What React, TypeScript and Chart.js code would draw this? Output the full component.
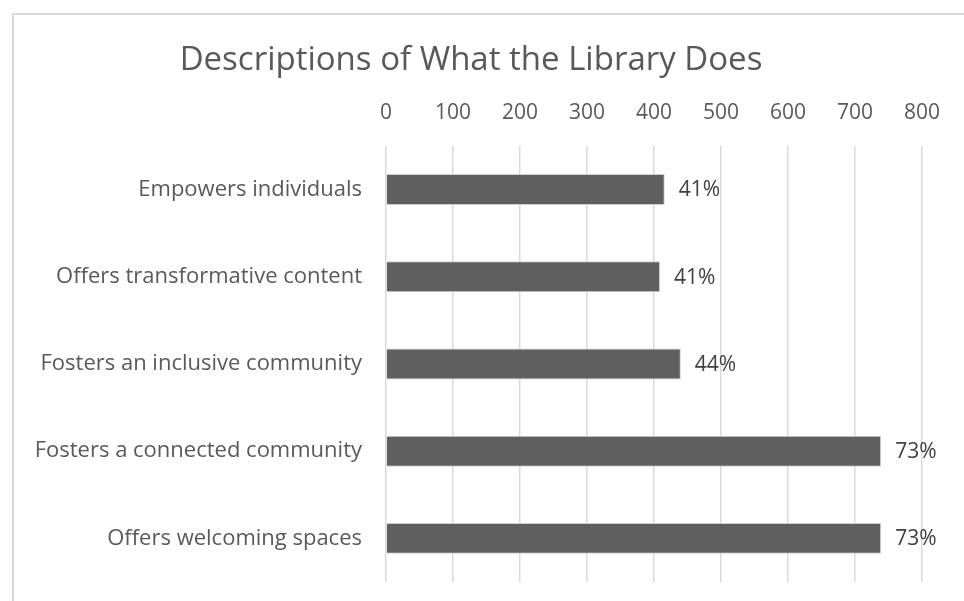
import React, { useEffect, useRef } from "react";
import { Chart, registerables } from "chart.js";

Chart.register(...registerables);

const titleText = "Descriptions of What the Library Does";
const categories = [
  "Empowers individuals",
  "Offers transformative content",
  "Fosters an inclusive community",
  "Fosters a connected community",
  "Offers welcoming spaces",
];
const counts = [416, 409, 440, 739, 739];
const percentLabels = ["41%", "41%", "44%", "73%", "73%"];
const xMin = 0;
const xMax = 800;
const xStep = 100;

const FONT = "'Open Sans', sans-serif";
const TEXT = "#595959";

const dataLabelPlugin = {
  id: "dataLabels",
  afterDatasetsDraw(chart: any) {
    const ctx = chart.ctx;
    const meta = chart.getDatasetMeta(0);
    ctx.save();
    ctx.font = `21px ${FONT}`;
    ctx.fillStyle = "#404040";
    ctx.textAlign = "left";
    ctx.textBaseline = "middle";
    meta.data.forEach((bar: any, i: number) => {
      ctx.fillText(percentLabels[i], bar.x + 14, bar.y + 1);
    });
    ctx.restore();
  },
};

export default function App() {
  const ref = useRef<HTMLCanvasElement | null>(null);
  useEffect(() => {
    if (!ref.current) return;
    const chart = new Chart(ref.current, {
      type: "bar",
      data: {
        labels: categories,
        datasets: [
          {
            data: counts,
            backgroundColor: "#5f5f5f",
            borderColor: "#cfcfcf",
            borderWidth: 1,
            barPercentage: 0.355,
            categoryPercentage: 1,
          },
        ],
      },
      options: {
        indexAxis: "y",
        animation: false,
        responsive: false,
        layout: { padding: { left: 20, right: 42, top: 0, bottom: 19 } },
        plugins: {
          legend: { display: false },
          tooltip: { enabled: false },
          title: {
            display: true,
            text: titleText,
            color: TEXT,
            font: { family: FONT, size: 33, weight: "normal" },
            padding: { top: 41, bottom: 0 },
          },
        },
        scales: {
          x: {
            position: "top",
            min: xMin,
            max: xMax,
            ticks: {
              stepSize: xStep,
              color: TEXT,
              font: { family: FONT, size: 21 },
              padding: 20,
            },
            grid: { color: "#d9d9d9", lineWidth: 1.5, drawTicks: false },
            border: { display: false },
            afterFit(scale: any) {
              scale.paddingLeft = 0;
              scale.paddingRight = 0;
            },
          },
          y: {
            ticks: {
              color: TEXT,
              font: { family: FONT, size: 22 },
              padding: 24,
            },
            grid: { display: false, drawTicks: false },
            border: { display: false },
            afterFit(scale: any) {
              scale.width = 366;
              scale.paddingTop = 0;
              scale.paddingBottom = 0;
            },
          },
        },
      },
      plugins: [dataLabelPlugin],
    });
    return () => chart.destroy();
  }, []);
  return (
    <div style={{ position: "absolute", left: 0, top: 0, width: 964, height: 601, background: "#fff", overflow: "hidden" }}>
      <div
        style={{
          position: "absolute",
          left: 12,
          top: 13,
          width: 960,
          height: 600,
          borderLeft: "2px solid #d9d9d9",
          borderTop: "2px solid #d9d9d9",
        }}
      />
      <canvas ref={ref} width={964} height={601} style={{ position: "absolute", left: 0, top: 0 }} />
    </div>
  );
}
